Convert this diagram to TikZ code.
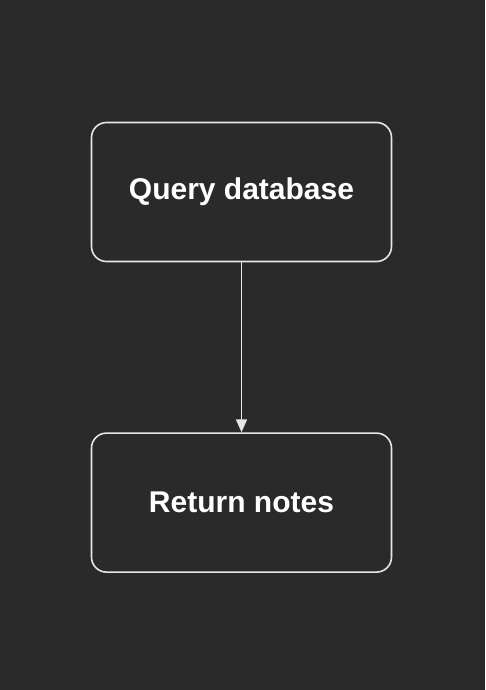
\documentclass[tikz,border=0pt]{standalone}
\usepackage{fontspec}
\setmainfont{Liberation Sans}
\usetikzlibrary{positioning,arrows.meta}
\definecolor{bgdark}{HTML}{2A2A2A}
\definecolor{edgegrey}{HTML}{E6E6E6}
\begin{document}
\begin{tikzpicture}[x=1pt, y=-1pt, font=\fontsize{30}{36}\selectfont\bfseries,
    stepbox/.style={draw=edgegrey, line width=1.6pt, rounded corners=15pt,
        minimum width=300pt, minimum height=139pt, text=white, inner sep=0pt},
    flow/.style={draw=edgegrey, line width=1.6pt, -{Triangle[width=11pt,length=13pt]}}]
    \fill[bgdark] (0,0) rectangle (485,690);
    \useasboundingbox (0,0) rectangle (485,690);

    \node [stepbox] (query) at (241.5,192) {Query database};
    \node [stepbox, below=170pt of query] (notes) {Return notes};

    \draw [flow] (query) -- (notes);
\end{tikzpicture}
\end{document}
